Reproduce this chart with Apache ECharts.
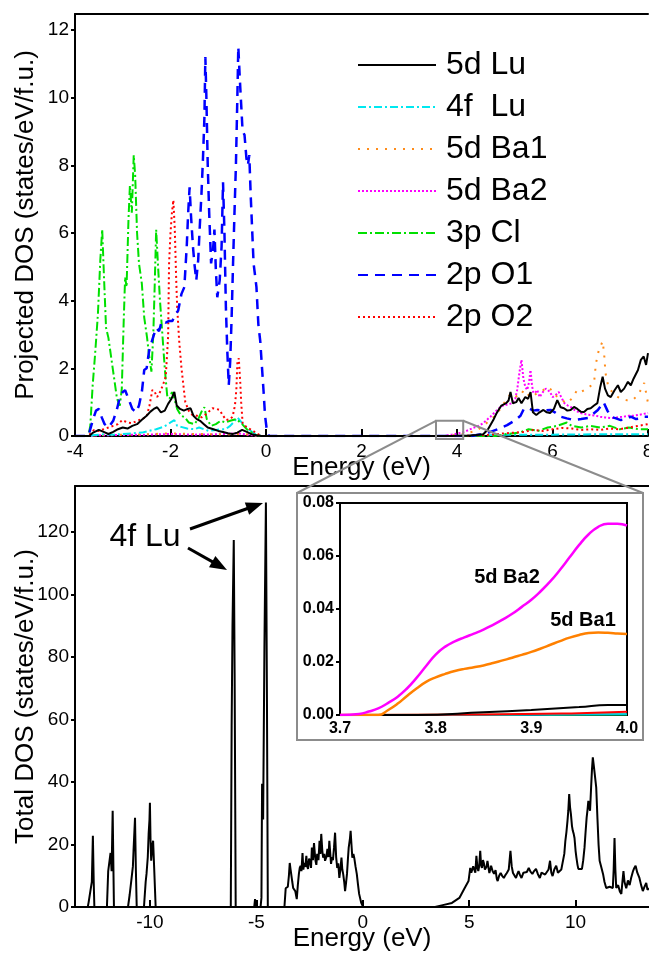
<!DOCTYPE html>
<html>
<head>
<meta charset="utf-8">
<script src="https://cdn.jsdelivr.net/npm/echarts@6/dist/echarts.min.js"></script>
<style>
  html, body { margin: 0; padding: 0; background: #fff; }
  #main { width: 649px; height: 955px; }
</style>
</head>
<body>
<div id="main"></div>
<script>
// ---- projected DOS, top panel: [energy eV, states/eV/f.u.] ----
var lu5d = [[-4,0],[-3.7,0],[-3.62,0.1],[-3.5,0.18],[-3.4,0.12],[-3.3,0.06],[-3.2,0.12],[-3.1,0.2],[-3.0,0.25],[-2.9,0.22],[-2.8,0.3],[-2.7,0.35],[-2.6,0.48],[-2.5,0.6],[-2.42,0.72],[-2.35,0.8],[-2.28,0.85],[-2.2,0.7],[-2.12,0.75],[-2.05,0.95],[-1.98,1.1],[-1.92,1.3],[-1.87,0.9],[-1.8,0.8],[-1.72,0.75],[-1.64,0.8],[-1.58,0.82],[-1.52,0.6],[-1.45,0.5],[-1.38,0.45],[-1.3,0.35],[-1.22,0.25],[-1.1,0.2],[-1.0,0.15],[-0.9,0.12],[-0.8,0.08],[-0.7,0.06],[-0.6,0.1],[-0.5,0.18],[-0.4,0.12],[-0.3,0.05],[-0.2,0.02],[-0.1,0],[3.75,0],[3.9,0.002],[4.0,0.004],[4.2,0.01],[4.4,0.03],[4.55,0.05],[4.65,0.2],[4.76,0.47],[4.82,0.65],[4.87,0.77],[4.93,0.9],[4.97,0.92],[5.03,0.97],[5.08,1.05],[5.12,1.3],[5.17,0.97],[5.24,1.0],[5.29,1.12],[5.35,0.97],[5.43,1.15],[5.49,1.1],[5.54,1.3],[5.59,0.7],[5.66,0.62],[5.73,0.7],[5.81,0.77],[5.88,0.7],[5.95,0.68],[6.03,0.8],[6.1,1.06],[6.17,0.85],[6.24,0.82],[6.31,0.75],[6.38,0.77],[6.45,0.86],[6.52,0.8],[6.59,0.72],[6.66,0.71],[6.73,0.8],[6.8,0.82],[6.87,0.9],[6.94,0.97],[7.0,1.45],[7.05,1.75],[7.1,1.4],[7.16,1.2],[7.22,1.15],[7.3,1.35],[7.37,1.5],[7.43,1.3],[7.5,1.4],[7.58,1.6],[7.64,1.5],[7.7,1.7],[7.79,1.95],[7.85,2.25],[7.91,2.35],[7.96,2.1],[8.0,2.45]];
var lu4f = [[-4,0],[-3.7,0],[-3.6,0.03],[-3.4,0.05],[-3.2,0.04],[-3.0,0.06],[-2.8,0.08],[-2.6,0.1],[-2.45,0.15],[-2.3,0.2],[-2.15,0.27],[-2.05,0.35],[-1.98,0.42],[-1.92,0.47],[-1.86,0.3],[-1.78,0.27],[-1.65,0.22],[-1.5,0.2],[-1.4,0.25],[-1.3,0.2],[-1.2,0.15],[-1.05,0.18],[-0.95,0.2],[-0.85,0.2],[-0.75,0.3],[-0.65,0.45],[-0.6,0.55],[-0.52,0.42],[-0.45,0.3],[-0.35,0.18],[-0.25,0.08],[-0.15,0.02],[-0.05,0],[3.8,0],[4.0,0.0003],[4.4,0.005],[4.8,0.03],[5.2,0.04],[6,0.04],[7,0.05],[8,0.05]];
var ba1 = [[-4,0],[-3.7,0],[-3.5,0.03],[-3.0,0.04],[-2.5,0.05],[-2.0,0.08],[-1.5,0.06],[-1.0,0.05],[-0.5,0.06],[-0.2,0.02],[-0.05,0],[3.7,0],[3.75,0.002],[3.8,0.014],[3.9,0.022],[4.0,0.031],[4.2,0.08],[4.4,0.15],[4.55,0.3],[4.65,0.42],[4.76,0.55],[4.88,0.75],[5.0,1.0],[5.1,1.2],[5.18,1.27],[5.26,1.15],[5.33,1.2],[5.4,1.36],[5.47,1.25],[5.54,1.15],[5.62,1.2],[5.7,1.3],[5.8,1.35],[5.9,1.45],[5.98,1.36],[6.1,1.15],[6.2,1.05],[6.31,0.97],[6.4,1.1],[6.52,1.36],[6.6,1.3],[6.66,1.35],[6.74,1.42],[6.82,1.5],[6.87,1.57],[6.91,2.15],[6.97,2.54],[7.02,2.7],[7.05,2.8],[7.08,2.45],[7.11,1.86],[7.17,1.45],[7.25,1.3],[7.37,1.15],[7.45,1.1],[7.55,1.06],[7.68,1.06],[7.78,1.2],[7.85,1.36],[7.92,1.57],[7.97,1.2],[8.0,0.97]];
var ba2 = [[-4,0],[-3.7,0],[-3.5,0.02],[-3.0,0.03],[-2.5,0.04],[-2.0,0.06],[-1.8,0.05],[-1.5,0.04],[-1.0,0.05],[-0.6,0.08],[-0.4,0.04],[-0.2,0.01],[-0.05,0],[3.7,0],[3.75,0.003],[3.8,0.022],[3.9,0.043],[4.0,0.072],[4.1,0.1],[4.2,0.15],[4.34,0.24],[4.45,0.3],[4.55,0.38],[4.62,0.47],[4.7,0.57],[4.77,0.67],[4.84,0.77],[4.93,0.88],[5.03,0.92],[5.1,0.95],[5.16,0.97],[5.22,1.1],[5.26,1.36],[5.31,1.9],[5.35,2.25],[5.39,1.7],[5.43,1.45],[5.47,1.36],[5.51,1.6],[5.54,1.95],[5.57,1.5],[5.6,1.27],[5.65,1.3],[5.68,1.36],[5.73,1.15],[5.8,1.3],[5.86,1.4],[5.9,1.45],[5.95,1.3],[6.0,1.15],[6.06,1.2],[6.13,1.3],[6.2,1.1],[6.25,0.97],[6.32,0.9],[6.38,0.86],[6.48,0.75],[6.59,0.68],[6.7,0.64],[6.8,0.62],[6.9,0.6],[7.0,0.57],[7.1,0.55],[7.22,0.53],[7.35,0.55],[7.49,0.57],[7.6,0.6],[7.7,0.6],[7.79,0.62],[7.9,0.65],[8.0,0.68]];
var cl3p = [[-4,0],[-3.72,0],[-3.68,0.3],[-3.63,1.5],[-3.58,2.4],[-3.52,3.6],[-3.47,5.2],[-3.43,6.1],[-3.39,4.6],[-3.35,3.2],[-3.3,2.9],[-3.22,2.1],[-3.17,1.6],[-3.12,1.1],[-3.06,0.9],[-3.02,1.4],[-2.98,3.4],[-2.95,4.7],[-2.92,4.4],[-2.88,6.4],[-2.85,7.4],[-2.81,6.6],[-2.77,8.3],[-2.74,7.7],[-2.7,6.0],[-2.66,5.1],[-2.6,4.5],[-2.55,3.5],[-2.49,2.9],[-2.45,2.4],[-2.4,1.9],[-2.36,3.0],[-2.33,4.5],[-2.3,6.1],[-2.26,5.0],[-2.22,4.0],[-2.17,3.0],[-2.12,2.0],[-2.07,1.2],[-2.02,1.1],[-1.97,1.3],[-1.92,1.1],[-1.86,0.8],[-1.78,0.6],[-1.7,0.55],[-1.62,0.4],[-1.5,0.35],[-1.42,0.5],[-1.34,0.75],[-1.29,0.85],[-1.24,0.5],[-1.15,0.3],[-1.05,0.35],[-0.95,0.45],[-0.85,0.4],[-0.75,0.45],[-0.62,0.5],[-0.5,0.35],[-0.4,0.2],[-0.3,0.1],[-0.2,0.02],[-0.1,0],[4.8,0],[5.0,0.05],[5.3,0.1],[5.5,0.2],[5.7,0.15],[5.9,0.25],[6.1,0.3],[6.3,0.4],[6.4,0.3],[6.6,0.25],[6.8,0.3],[7.0,0.25],[7.2,0.3],[7.4,0.2],[7.6,0.25],[7.8,0.2],[8,0.2]];
var o1 = [[-4,0],[-3.72,0],[-3.68,0.2],[-3.62,0.5],[-3.56,0.75],[-3.5,0.8],[-3.44,0.55],[-3.38,0.35],[-3.3,0.25],[-3.2,0.45],[-3.12,0.8],[-3.06,1.15],[-3.0,1.3],[-2.95,1.35],[-2.88,1.1],[-2.8,0.8],[-2.72,0.7],[-2.66,0.9],[-2.6,1.3],[-2.55,1.95],[-2.5,2.0],[-2.45,2.5],[-2.38,2.85],[-2.3,3.2],[-2.24,3.1],[-2.18,3.4],[-2.1,3.35],[-2.03,3.4],[-1.96,3.4],[-1.9,3.6],[-1.84,3.7],[-1.77,4.2],[-1.71,4.4],[-1.66,5.6],[-1.63,6.6],[-1.6,7.35],[-1.57,6.5],[-1.53,5.6],[-1.5,5.1],[-1.46,4.6],[-1.42,5.2],[-1.39,6.1],[-1.35,7.2],[-1.32,8.2],[-1.29,9.4],[-1.27,11.2],[-1.25,10.1],[-1.22,8.0],[-1.19,6.6],[-1.15,5.1],[-1.11,5.5],[-1.08,6.1],[-1.05,4.9],[-1.02,4.1],[-0.97,4.6],[-0.93,5.6],[-0.9,7.5],[-0.87,6.0],[-0.84,3.8],[-0.81,2.5],[-0.78,1.5],[-0.75,2.2],[-0.72,3.5],[-0.69,5.1],[-0.66,6.6],[-0.63,8.0],[-0.6,10.0],[-0.58,11.5],[-0.55,10.6],[-0.52,9.8],[-0.49,9.0],[-0.45,8.9],[-0.41,8.2],[-0.38,8.0],[-0.35,8.3],[-0.32,7.1],[-0.29,6.1],[-0.26,5.1],[-0.2,4.4],[-0.16,3.3],[-0.12,2.8],[-0.09,2.15],[-0.05,1.3],[-0.02,0.6],[0.02,0.15],[0.06,0],[4.3,0],[4.5,0.05],[4.7,0.12],[4.85,0.2],[5.05,0.32],[5.2,0.45],[5.33,0.6],[5.4,0.8],[5.5,0.82],[5.6,0.75],[5.68,0.77],[5.8,0.75],[5.96,0.77],[6.05,0.7],[6.17,0.57],[6.3,0.52],[6.45,0.47],[6.6,0.5],[6.74,0.53],[6.85,0.65],[6.95,0.77],[7.07,1.0],[7.15,0.75],[7.22,0.57],[7.33,0.52],[7.43,0.47],[7.55,0.5],[7.64,0.57],[7.75,0.5],[7.85,0.52],[7.92,0.57],[8.0,0.57]];
var o2 = [[-4,0],[-3.72,0],[-3.66,0.1],[-3.6,0.18],[-3.5,0.15],[-3.4,0.2],[-3.3,0.25],[-3.2,0.3],[-3.1,0.35],[-3.01,0.47],[-2.9,0.4],[-2.8,0.38],[-2.7,0.45],[-2.6,0.5],[-2.5,0.57],[-2.44,0.9],[-2.38,1.36],[-2.33,1.3],[-2.28,1.15],[-2.22,1.3],[-2.16,1.5],[-2.1,1.75],[-2.07,2.45],[-2.05,2.93],[-2.03,5.1],[-2.0,6.0],[-1.97,6.6],[-1.94,6.97],[-1.91,6.1],[-1.88,4.6],[-1.86,3.8],[-1.82,2.84],[-1.77,2.0],[-1.73,1.5],[-1.69,1.0],[-1.62,0.75],[-1.54,0.62],[-1.45,0.6],[-1.35,0.55],[-1.25,0.65],[-1.12,0.82],[-1.04,0.8],[-0.97,0.77],[-0.9,0.6],[-0.83,0.47],[-0.75,0.5],[-0.7,0.57],[-0.65,0.9],[-0.62,1.4],[-0.6,2.15],[-0.57,2.3],[-0.54,1.6],[-0.52,1.0],[-0.49,0.38],[-0.4,0.25],[-0.3,0.18],[-0.2,0.08],[-0.1,0],[3.7,0],[3.9,0.0005],[4.0,0.001],[4.3,0.01],[4.6,0.03],[4.8,0.05],[5.0,0.08],[5.2,0.1],[5.4,0.12],[5.6,0.18],[5.8,0.15],[6.0,0.2],[6.2,0.24],[6.4,0.22],[6.6,0.18],[6.8,0.2],[7.0,0.18],[7.2,0.22],[7.4,0.2],[7.6,0.25],[7.8,0.3],[8.0,0.35]];

// ---- total DOS, bottom panel ----
var totalDos = [[-13.52,0],[-12.92,0],[-12.88,1.5],[-12.8,5],[-12.73,8],[-12.68,22.8],[-12.64,8],[-12.61,0],[-12.02,0],[-11.96,11.5],[-11.9,12],[-11.85,17.3],[-11.8,11.5],[-11.75,30.8],[-11.72,15],[-11.69,0],[-11.03,0],[-10.95,4],[-10.86,9.3],[-10.8,13],[-10.77,18],[-10.7,28.6],[-10.66,12],[-10.62,0],[-10.28,0],[-10.2,8],[-10.16,10.6],[-10.1,16],[-10.06,23.4],[-10.02,28],[-10.0,33.4],[-9.97,21],[-9.94,14.8],[-9.88,20],[-9.85,21.2],[-9.8,12.5],[-9.73,0],[-6.2,0],[-6.16,58],[-6.12,90],[-6.06,117.5],[-6.02,75],[-5.97,0],[-5.1,0],[-5.06,2.5],[-5.03,0],[-4.8,0],[-4.76,3],[-4.73,39.5],[-4.68,28],[-4.62,83],[-4.55,129.5],[-4.5,65],[-4.46,0],[-3.68,0],[-3.62,6],[-3.56,5.5],[-3.52,6.5],[-3.47,10],[-3.43,14.1],[-3.39,12],[-3.36,11.5],[-3.31,8],[-3.27,6.1],[-3.21,5.5],[-3.17,5.1],[-3.1,2.5],[-3.05,7],[-3.0,10.6],[-2.96,12.5],[-2.92,13.2],[-2.88,11.5],[-2.83,17.3],[-2.79,12],[-2.75,14.1],[-2.7,12.8],[-2.65,16.4],[-2.61,13],[-2.57,12.2],[-2.52,15.5],[-2.48,14.8],[-2.43,12.5],[-2.39,19],[-2.34,15],[-2.29,20.5],[-2.25,17],[-2.22,14.8],[-2.18,13.5],[-2.14,17],[-2.08,15],[-2.03,21.2],[-1.99,17],[-1.95,23.4],[-1.9,18],[-1.86,15.8],[-1.81,17],[-1.77,14.8],[-1.71,16],[-1.66,18.6],[-1.61,16],[-1.57,21.2],[-1.53,17.5],[-1.49,13.8],[-1.44,16],[-1.4,15],[-1.35,19],[-1.3,23.8],[-1.25,16],[-1.2,12.5],[-1.15,14],[-1.1,9.3],[-1.05,12],[-1.0,15.8],[-0.96,12],[-0.92,10.6],[-0.87,8],[-0.83,5.1],[-0.78,8],[-0.74,10.6],[-0.7,15],[-0.66,19],[-0.6,22],[-0.57,24.4],[-0.53,20],[-0.49,15.8],[-0.44,17],[-0.4,15.8],[-0.34,13],[-0.28,10.6],[-0.22,7],[-0.17,4.2],[-0.07,1.3],[0.02,0],[3.4,0],[3.76,0.6],[4.19,1.3],[4.54,2.9],[4.79,6.1],[4.97,8.3],[5.05,12.5],[5.1,11],[5.14,10.6],[5.19,13],[5.23,12.2],[5.29,11],[5.34,16.4],[5.39,12.5],[5.43,11.5],[5.47,13],[5.52,18],[5.56,13.5],[5.6,12.5],[5.65,15],[5.69,14.1],[5.74,12],[5.78,11.5],[5.82,13],[5.86,14.8],[5.91,12.5],[5.95,10.9],[5.99,12],[6.03,13.2],[6.1,11.5],[6.17,10.6],[6.24,11.8],[6.3,9],[6.34,8.3],[6.41,10],[6.48,10.9],[6.55,10],[6.63,9.3],[6.7,10.2],[6.77,10.9],[6.86,12],[6.94,18],[7.0,13],[7.06,10.9],[7.13,11.5],[7.2,9.3],[7.26,10.5],[7.32,11.5],[7.39,10.2],[7.46,9.3],[7.55,11],[7.63,10.6],[7.71,11.2],[7.8,12.5],[7.88,11.3],[7.97,10.6],[8.05,11.5],[8.14,12.2],[8.23,10.5],[8.32,9.3],[8.4,11],[8.49,11.5],[8.57,10.4],[8.66,9.9],[8.73,12],[8.8,14.8],[8.86,11],[8.92,9.9],[9.0,12],[9.09,13.2],[9.17,11],[9.26,10.6],[9.33,12],[9.4,12.5],[9.47,17],[9.52,21.2],[9.57,24],[9.62,27.6],[9.66,31],[9.7,36.2],[9.74,32],[9.78,29.8],[9.83,26],[9.87,24.4],[9.91,23.5],[9.95,22.1],[10.0,18],[10.04,15.8],[10.09,13.5],[10.13,12.2],[10.22,12.8],[10.3,12.2],[10.36,15],[10.42,19],[10.47,24],[10.52,28.6],[10.56,31],[10.6,34],[10.64,32],[10.68,30.8],[10.73,38.3],[10.77,44],[10.81,47.9],[10.86,45],[10.91,42],[10.97,38.3],[11.03,28],[11.08,20],[11.13,14.8],[11.2,13],[11.29,10.6],[11.36,8],[11.44,6.1],[11.6,6.5],[11.75,6.1],[11.79,12],[11.83,22.1],[11.87,12],[11.91,6.1],[12.0,7],[12.08,5],[12.15,4.2],[12.2,8],[12.25,11.5],[12.3,8],[12.38,6],[12.46,8.5],[12.54,7],[12.61,9.3],[12.7,11.5],[12.76,12.5],[12.82,13.2],[12.9,11],[13.0,9.3],[13.08,7],[13.16,5.1],[13.24,6.5],[13.32,7.7],[13.38,5.5],[13.45,6]];

// ---- inset, 3.7 - 4.0 eV ----
var insetBa2 = [[3.7,0],[3.72,0.0004],[3.73,0.0013],[3.74,0.0025],[3.75,0.0045],[3.76,0.0068],[3.77,0.0100],[3.78,0.0140],[3.79,0.0185],[3.80,0.0228],[3.81,0.0258],[3.82,0.0278],[3.83,0.0293],[3.84,0.0307],[3.85,0.0322],[3.86,0.0340],[3.87,0.0360],[3.88,0.0382],[3.89,0.0408],[3.90,0.0435],[3.91,0.0468],[3.92,0.0505],[3.93,0.0548],[3.94,0.0595],[3.95,0.0642],[3.96,0.0682],[3.97,0.0710],[3.98,0.0722],[3.99,0.0722],[4.0,0.0715]];
var insetBa1 = [[3.7,0],[3.74,0],[3.75,0.0018],[3.76,0.0042],[3.77,0.0072],[3.78,0.0100],[3.79,0.0125],[3.80,0.0142],[3.81,0.0155],[3.82,0.0166],[3.83,0.0174],[3.84,0.0180],[3.85,0.0187],[3.86,0.0196],[3.87,0.0206],[3.88,0.0216],[3.89,0.0227],[3.90,0.0238],[3.91,0.0251],[3.92,0.0265],[3.93,0.0279],[3.94,0.0292],[3.95,0.0302],[3.96,0.0309],[3.97,0.0311],[3.98,0.0310],[3.99,0.0308],[4.0,0.0306]];
var insetLu5d = [[3.7,0],[3.78,0],[3.85,0.001],[3.9,0.0019],[3.95,0.003],[3.98,0.0038],[4.0,0.0038]];
var insetO2 = [[3.7,0],[3.85,0.0002],[3.95,0.0007],[4.0,0.0012]];
var insetLu4f = [[3.7,0],[3.9,0.0001],[4.0,0.0003]];
var insetCl = [[3.7,0],[3.88,0.0001],[3.9,0.0004],[3.92,0.0001],[4.0,0.0002]];

var topTicksX = [-4, -2, 0, 2, 4, 6, 8];
var topTicksY = [0, 2, 4, 6, 8, 10, 12];
var botTicksX = [-10, -5, 0, 5, 10];
var botTicksY = [0, 20, 40, 60, 80, 100, 120];
var insTicksX = [3.7, 3.8, 3.9, 4.0];
var insTicksY = [0, 0.02, 0.04, 0.06, 0.08];

var FONT = 'Liberation Sans, Arial, sans-serif';
var chart = echarts.init(document.getElementById('main'));

function pdos(name, data, color, dash, width) {
  return {
    name: name, type: 'line', xAxisIndex: 0, yAxisIndex: 0, data: data,
    showSymbol: false, symbol: 'none', animation: false,
    lineStyle: { color: color, width: width, type: dash },
    itemStyle: { color: color }
  };
}
function inset(name, data, color, width) {
  return {
    name: name, type: 'line', xAxisIndex: 4, yAxisIndex: 2, data: data,
    showSymbol: false, symbol: 'none', smooth: true, animation: false,
    lineStyle: { color: color, width: width }, z: 5
  };
}
function xAxisBase(grid, min, max, ticks, name, gap) {
  return {
    type: 'value', gridIndex: grid, min: min, max: max, position: 'bottom',
    name: name, nameLocation: 'middle', nameGap: gap, nameMoveOverlap: false,
    nameTextStyle: { fontSize: 26, color: '#000', fontFamily: FONT },
    axisLine: { onZero: false, lineStyle: { color: '#000', width: 2 } },
    axisTick: { inside: true, length: 7, customValues: ticks, lineStyle: { color: '#000', width: 2 } },
    axisLabel: { customValues: ticks, margin: 6, fontSize: 19, color: '#000', fontFamily: FONT },
    splitLine: { show: false }
  };
}
function frameTop(grid, min, max) {
  return {
    type: 'value', gridIndex: grid, min: min, max: max, position: 'top',
    axisLine: { onZero: false, lineStyle: { color: '#000', width: 2 } },
    axisTick: { show: false }, axisLabel: { show: false }, splitLine: { show: false }
  };
}
function yAxisBase(grid, min, max, ticks, name) {
  return {
    type: 'value', gridIndex: grid, min: min, max: max,
    name: name, nameLocation: 'middle', nameGap: 36, nameMoveOverlap: false,
    nameTextStyle: { fontSize: 26, color: '#000', fontFamily: FONT },
    axisLine: { onZero: false, lineStyle: { color: '#000', width: 2 } },
    axisTick: { length: 4, customValues: ticks, lineStyle: { color: '#000', width: 2 } },
    axisLabel: { customValues: ticks, margin: 6, fontSize: 19, color: '#000', fontFamily: FONT },
    splitLine: { show: false }
  };
}

var option = {
  backgroundColor: '#fff',
  animation: false,
  grid: [
    { left: 75, right: 1, top: 14, bottom: 519, outerBoundsMode: 'none', containLabel: false },
    { left: 75, right: 0, top: 486, bottom: 48, outerBoundsMode: 'none', containLabel: false },
    { left: 340, right: 22, top: 503, bottom: 240, outerBoundsMode: 'none', containLabel: false,
      show: true, backgroundColor: '#fff', borderColor: '#000', borderWidth: 2, z: 3 }
  ],
  legend: {
    data: ['5d Lu', '4f  Lu', '5d Ba1', '5d Ba2', '3p Cl', '2p O1', '2p O2'],
    orient: 'vertical', left: 352, top: 44, itemWidth: 78, itemHeight: 14, itemGap: 10,
    itemStyle: { opacity: 0 },
    textStyle: { fontSize: 32, lineHeight: 32, color: '#000', fontFamily: FONT, padding: [0, 0, 0, 5] }
  },
  xAxis: [
    xAxisBase(0, -4, 8, topTicksX, 'Energy (eV)', 19),
    frameTop(0, -4, 8),
    xAxisBase(1, -13.52, 13.45, botTicksX, 'Energy (eV)', 19),
    frameTop(1, -13.52, 13.45),
    {
      type: 'value', gridIndex: 2, min: 3.7, max: 4.0, position: 'bottom',
      axisLine: { onZero: false, lineStyle: { color: '#000', width: 2 } },
      axisTick: { inside: true, length: 6, customValues: [3.8, 3.9], lineStyle: { color: '#000', width: 2 } },
      axisLabel: { customValues: insTicksX, margin: 6, fontSize: 16, fontWeight: 'bold', color: '#000', fontFamily: FONT,
        formatter: function (v) { return v.toFixed(1); } },
      splitLine: { show: false }
    }
  ],
  yAxis: [
    yAxisBase(0, 0, 12.47, topTicksY, 'Projected DOS (states/eV/f.u.)'),
    yAxisBase(1, 0, 134.8, botTicksY, 'Total DOS (states/eV/f.u.)'),
    {
      type: 'value', gridIndex: 2, min: 0, max: 0.08,
      axisLine: { onZero: false, lineStyle: { color: '#000', width: 2 } },
      axisTick: { length: 4, customValues: insTicksY, lineStyle: { color: '#000', width: 2 } },
      axisLabel: { customValues: insTicksY, margin: 6, fontSize: 16, fontWeight: 'bold', color: '#000', fontFamily: FONT,
        formatter: function (v) { return v.toFixed(2); } },
      splitLine: { show: false }
    }
  ],
  series: [
    pdos('5d Ba2', ba2, '#ff00ff', [2, 2], 2),
    pdos('5d Ba1', ba1, '#ff8c1a', [2, 7], 2),
    pdos('4f  Lu', lu4f, '#00e8f0', [8, 3, 2, 3], 2),
    pdos('3p Cl', cl3p, '#00e000', [9, 3, 2, 3], 2),
    pdos('2p O2', o2, '#ff0000', [2, 3], 2),
    pdos('2p O1', o1, '#0000ff', [10, 7], 2.5),
    pdos('5d Lu', lu5d, '#000000', 'solid', 2),
    {
      name: 'Total DOS', type: 'line', xAxisIndex: 2, yAxisIndex: 1, data: totalDos,
      showSymbol: false, symbol: 'none', lineStyle: { color: '#000', width: 2 }
    },
    inset('in Cl', insetCl, '#00a000', 2),
    inset('in 4f', insetLu4f, '#00c8e0', 2),
    inset('in O2', insetO2, '#ff0000', 2),
    inset('in Lu', insetLu5d, '#000000', 2),
    inset('in Ba1', insetBa1, '#ff8000', 2.5),
    inset('in Ba2', insetBa2, '#ff00ff', 2.5)
  ]
};
chart.setOption(option);

// zoom box on the top panel and connector lines to the inset
var p0 = chart.convertToPixel({ xAxisIndex: 0, yAxisIndex: 0 }, [3.56, 0.45]);
var p1 = chart.convertToPixel({ xAxisIndex: 0, yAxisIndex: 0 }, [4.13, -0.09]);
var box = { x: 297, y: 493, w: 346, h: 247 };

function arrow(x1, y1, x2, y2) {
  var dx = x2 - x1, dy = y2 - y1, len = Math.sqrt(dx * dx + dy * dy);
  var ux = dx / len, uy = dy / len, hl = 17, hw = 6.5;
  var bx = x2 - ux * hl, by = y2 - uy * hl;
  return [
    { type: 'line', shape: { x1: x1, y1: y1, x2: bx + ux * 2, y2: by + uy * 2 }, style: { stroke: '#000', lineWidth: 3 }, z: 10 },
    { type: 'polygon', shape: { points: [[x2, y2], [bx - uy * hw, by + ux * hw], [bx + uy * hw, by - ux * hw]] }, style: { fill: '#000' }, z: 10 }
  ];
}

var graphics = [
  { type: 'rect', shape: { x: box.x, y: box.y, width: box.w, height: box.h }, style: { fill: '#fff', stroke: '#8c8c8c', lineWidth: 2 }, z: -1 },
  { type: 'rect', shape: { x: p0[0], y: p0[1], width: p1[0] - p0[0], height: p1[1] - p0[1] }, style: { fill: 'none', stroke: '#8c8c8c', lineWidth: 2 }, z: 10 },
  { type: 'line', shape: { x1: p0[0], y1: p0[1], x2: box.x, y2: box.y }, style: { stroke: '#8c8c8c', lineWidth: 2 }, z: 10 },
  { type: 'line', shape: { x1: p1[0], y1: p0[1], x2: box.x + box.w, y2: box.y }, style: { stroke: '#8c8c8c', lineWidth: 2 }, z: 10 },
  { type: 'text', x: 145, y: 537, style: { text: '4f Lu', fontSize: 32, fontFamily: FONT, fill: '#000', align: 'center', verticalAlign: 'middle' }, z: 10 },
  { type: 'text', x: 507, y: 577, style: { text: '5d Ba2', fontSize: 20, fontWeight: 'bold', fontFamily: FONT, fill: '#000', align: 'center', verticalAlign: 'middle' }, z: 10 },
  { type: 'text', x: 583, y: 620, style: { text: '5d Ba1', fontSize: 20, fontWeight: 'bold', fontFamily: FONT, fill: '#000', align: 'center', verticalAlign: 'middle' }, z: 10 }
].concat(arrow(190, 529, 263, 503)).concat(arrow(188, 548, 227, 570));

chart.setOption({ graphic: graphics });
</script>
</body>
</html>
